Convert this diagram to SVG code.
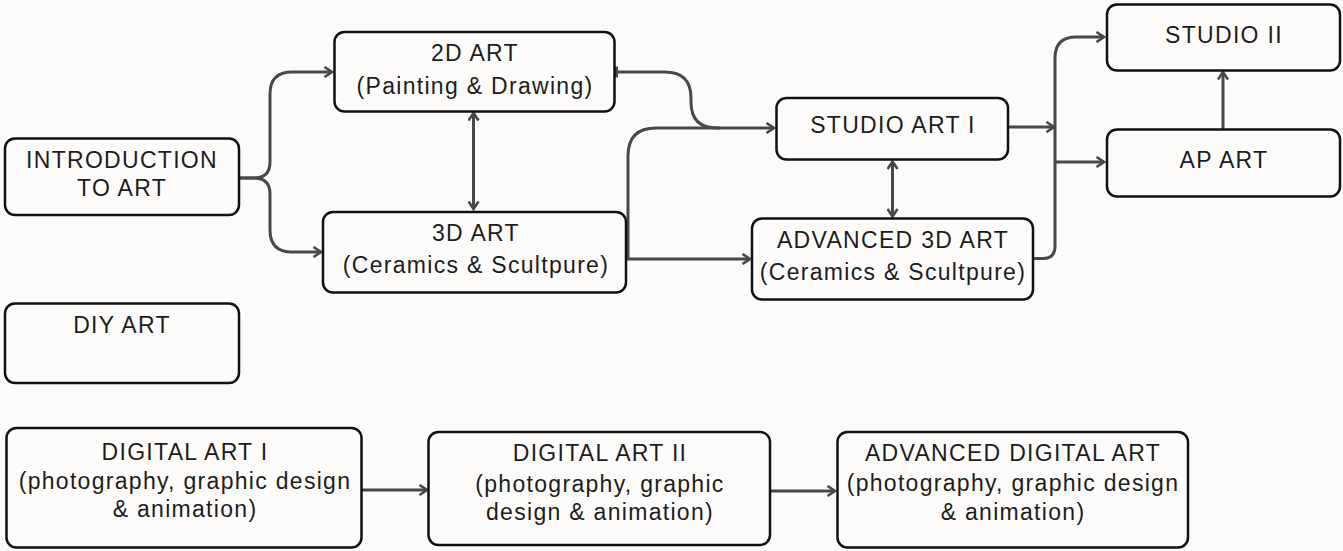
<svg xmlns="http://www.w3.org/2000/svg" width="1343" height="551" viewBox="0 0 1343 551">
  <style>
    .box { fill: #fefcfb; stroke: #111; stroke-width: 2.5; }
    .lbl { font-family: "Liberation Sans", Arial, sans-serif; font-size: 23px; letter-spacing: 1.3px; fill: #1c1c1c; text-anchor: middle; }
    .edge { fill: none; stroke: #484848; stroke-width: 3; }
  </style>
  <defs>
    <marker id="arr" viewBox="0 0 12 12" refX="10.5" refY="6" markerWidth="12" markerHeight="12" markerUnits="userSpaceOnUse" orient="auto-start-reverse">
      <path d="M3,1 L10.5,6 L3,11" fill="none" stroke="#484848" stroke-width="2.6" stroke-linejoin="miter"/>
    </marker>
    <marker id="bar" viewBox="0 0 6 12" refX="1.5" refY="6" markerWidth="6" markerHeight="12" markerUnits="userSpaceOnUse" orient="auto">
      <path d="M1.5,0.5 V11.5" fill="none" stroke="#484848" stroke-width="3"/>
    </marker>
  </defs>
  <rect width="1343" height="551" fill="#fdfbfa"/>

  <g id="connectors">
    <path class="edge" d="M239 178 H254 Q270 178 270 162 V94 Q270 72 292 72 H332" marker-end="url(#arr)"/>
    <path class="edge" d="M239 178 H254 Q270 178 270 194 V230 Q270 252 292 252 H321" marker-end="url(#arr)"/>
    <path class="edge" d="M473.5 113 V209" marker-start="url(#arr)" marker-end="url(#arr)"/>
    <path class="edge" d="M616.5 72 H665 Q691 72 691 98 V102 Q691 128 717 128 H774" marker-start="url(#bar)" marker-end="url(#arr)"/>
    <path class="edge" d="M628 259 V156 Q628 128 656 128 H720"/>
    <path class="edge" d="M626 259 H750" marker-end="url(#arr)"/>
    <path class="edge" d="M892.5 161.5 V216.5" marker-start="url(#arr)" marker-end="url(#arr)"/>
    <path class="edge" d="M1008 127 H1054" marker-end="url(#arr)"/>
    <path class="edge" d="M1033 258.5 H1043 Q1055 258.5 1055 246 V58 Q1055 37 1076 37 H1104" marker-end="url(#arr)"/>
    <path class="edge" d="M1055 162 H1104" marker-end="url(#arr)"/>
    <path class="edge" d="M1223 129 V72" marker-end="url(#arr)"/>
    <path class="edge" d="M362 490 H427" marker-end="url(#arr)"/>
    <path class="edge" d="M770 491 H835" marker-end="url(#arr)"/>
  </g>

  <g id="intro">
    <rect class="box" x="5" y="138.5" width="234" height="76.5" rx="10"/>
    <text class="lbl" x="122" y="168">INTRODUCTION</text>
    <text class="lbl" x="122" y="196">TO ART</text>
  </g>
  <g id="art2d">
    <rect class="box" x="334.5" y="32" width="280" height="79.5" rx="10"/>
    <text class="lbl" x="475" y="61">2D ART</text>
    <text class="lbl" x="475" y="94">(Painting &amp; Drawing)</text>
  </g>
  <g id="art3d">
    <rect class="box" x="323" y="212" width="303" height="80.5" rx="10"/>
    <text class="lbl" x="476" y="241">3D ART</text>
    <text class="lbl" x="476" y="273">(Ceramics &amp; Scultpure)</text>
  </g>
  <g id="studio1">
    <rect class="box" x="776.5" y="98" width="231.5" height="61.5" rx="10"/>
    <text class="lbl" x="893" y="133">STUDIO ART I</text>
  </g>
  <g id="adv3d">
    <rect class="box" x="752" y="218.5" width="281" height="81" rx="10"/>
    <text class="lbl" x="893" y="248">ADVANCED 3D ART</text>
    <text class="lbl" x="893" y="280">(Ceramics &amp; Scultpure)</text>
  </g>
  <g id="studio2">
    <rect class="box" x="1107" y="4.5" width="233" height="66" rx="10"/>
    <text class="lbl" x="1224" y="43">STUDIO II</text>
  </g>
  <g id="apart">
    <rect class="box" x="1107" y="129.5" width="233" height="67" rx="10"/>
    <text class="lbl" x="1224" y="168">AP ART</text>
  </g>
  <g id="diy">
    <rect class="box" x="5" y="303.5" width="234" height="79.5" rx="10"/>
    <text class="lbl" x="122" y="333">DIY ART</text>
  </g>
  <g id="digital1">
    <rect class="box" x="6.5" y="428" width="355" height="119.5" rx="10"/>
    <text class="lbl" x="185" y="460">DIGITAL ART I</text>
    <text class="lbl" x="185" y="489">(photography, graphic design</text>
    <text class="lbl" x="185" y="517">&amp; animation)</text>
  </g>
  <g id="digital2">
    <rect class="box" x="428.5" y="432" width="341.5" height="113" rx="10"/>
    <text class="lbl" x="600" y="461">DIGITAL ART II</text>
    <text class="lbl" x="600" y="492">(photography, graphic</text>
    <text class="lbl" x="600" y="520">design &amp; animation)</text>
  </g>
  <g id="advdigital">
    <rect class="box" x="837.5" y="432" width="350.5" height="115.5" rx="10"/>
    <text class="lbl" x="1013" y="461">ADVANCED DIGITAL ART</text>
    <text class="lbl" x="1013" y="491">(photography, graphic design</text>
    <text class="lbl" x="1013" y="520">&amp; animation)</text>
  </g>
</svg>
